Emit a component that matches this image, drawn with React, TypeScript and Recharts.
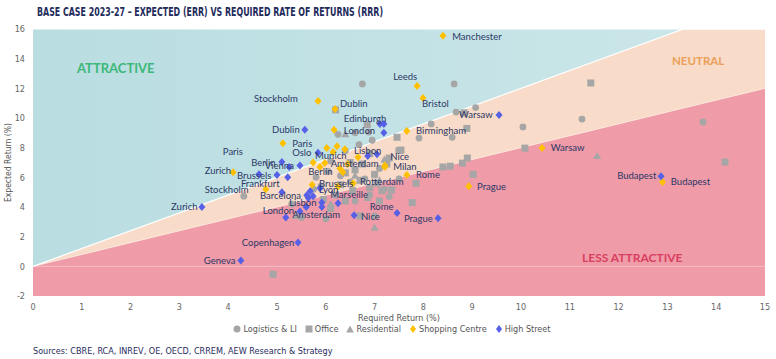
import React from 'react';
import {
  ComposedChart,
  Area,
  Scatter,
  XAxis,
  YAxis,
  ReferenceLine,
} from 'recharts';

type Pt = { x: number; y: number };
type CityLabel = { name: string; x: number; y: number };

const toPts = (rows: number[][]): Pt[] => rows.map(([x, y]) => ({ x, y }));

// zone boundaries (lower = neutral/less attractive, upper = attractive/neutral)
const zoneEdges = [
  { x: 0, lower: 0, upper: 0 },
  { x: 13.33, lower: 10.67, upper: 16 },
  { x: 15, lower: 12, upper: 16 },
];

const xTicks = [0, 1, 2, 3, 4, 5, 6, 7, 8, 9, 10, 11, 12, 13, 14, 15];
const yTicks = [-2, 0, 2, 4, 6, 8, 10, 12, 14, 16];

const logistics = toPts([
  [6.75, 12.3], [8.63, 12.3], [8.67, 10.4], [9.07, 10.7], [10.04, 9.4], [11.25, 9.93],
  [13.73, 9.73], [8.16, 9.6], [8.59, 8.7], [7.91, 8.65], [6.25, 8.9], [6.6, 9.0],
  [6.88, 9.05], [6.95, 8.5], [6.68, 8.2], [6.4, 7.8], [6.1, 7.1], [5.8, 6.0],
  [5.9, 5.4], [6.3, 6.1], [6.5, 5.7], [6.8, 5.9], [7.1, 6.6], [7.2, 5.2],
  [6.9, 4.8], [6.6, 4.4], [6.2, 4.8], [7.5, 5.9], [4.32, 4.73], [5.5, 3.3],
  [6.0, 3.2], [7.0, 3.4], [5.3, 4.2], [7.3, 4.7], [5.75, 5.2], [6.05, 6.4],
]);

const office = toPts([
  [11.43, 12.36], [6.2, 10.55], [6.85, 9.55], [7.46, 8.7], [7.54, 7.84], [8.89, 9.3],
  [8.83, 10.35], [8.9, 7.3], [8.8, 6.96], [8.4, 6.7], [8.55, 6.75], [9.02, 6.2],
  [7.85, 5.6], [7.15, 5.1], [7.35, 5.15], [7.77, 4.3], [10.08, 7.97], [14.18, 7.03],
  [6.4, 6.3], [6.6, 6.5], [6.3, 5.5], [6.7, 5.8], [7.0, 6.2], [6.9, 7.6],
  [7.3, 7.3], [6.5, 7.0], [5.95, 4.5], [6.1, 3.9], [6.9, 5.3], [7.1, 4.4],
  [4.92, -0.54], [7.5, 7.8], [6.4, 4.4], [6.7, 3.4], [7.25, 6.9], [6.75, 6.9],
  [7.05, 5.6], [6.55, 5.1],
]);

const residential = toPts([
  [11.56, 7.43], [6.4, 8.9], [7.0, 2.6], [5.4, 3.4], [6.6, 6.1], [7.1, 5.8],
  [6.1, 4.2], [7.2, 7.2], [6.85, 4.6],
]);

const shopping = toPts([
  [8.4, 15.54], [7.87, 12.16], [7.99, 11.35], [5.84, 11.15], [6.19, 10.6], [6.17, 9.2],
  [7.66, 9.12], [5.12, 8.3], [4.1, 6.35], [10.43, 7.97], [12.9, 5.68], [8.93, 5.4],
  [7.66, 6.15], [7.21, 6.7], [4.77, 5.2], [6.25, 5.4], [6.02, 7.97], [6.23, 8.1],
  [6.39, 7.9], [6.15, 7.7], [5.74, 7.0], [5.98, 6.96], [5.88, 6.7], [6.29, 6.6],
  [6.35, 6.35], [6.66, 7.36], [7.21, 6.8], [5.72, 5.5], [6.56, 5.6], [6.45, 6.9],
]);

const highStreet = toPts([
  [9.55, 10.2], [7.11, 9.6], [7.19, 9.6], [7.19, 9.0], [5.57, 9.2], [5.84, 7.65],
  [6.86, 7.43], [7.05, 7.55], [5.1, 7.03], [5.25, 6.7], [5.47, 6.8], [4.63, 6.2],
  [5.0, 6.15], [5.22, 6.0], [5.1, 5.0], [5.68, 5.07], [5.88, 5.27], [5.61, 4.8],
  [5.74, 4.73], [5.92, 4.3], [5.64, 4.6], [5.92, 4.0], [5.6, 4.0], [5.47, 3.7],
  [6.25, 4.25], [5.18, 3.3], [6.58, 3.45], [7.46, 3.6], [8.3, 3.24], [3.46, 4.0],
  [5.43, 1.6], [4.26, 0.4], [12.87, 6.08],
]);

const cityLabels: CityLabel[] = [
  { name: 'Manchester', x: 8.59, y: 15.47 },
  { name: 'Leeds', x: 7.38, y: 12.77 },
  { name: 'Bristol', x: 7.97, y: 10.95 },
  { name: 'Stockholm', x: 4.53, y: 11.28 },
  { name: 'Dublin', x: 6.29, y: 10.95 },
  { name: 'Warsaw', x: 8.73, y: 10.2 },
  { name: 'Edinburgh', x: 6.37, y: 9.93 },
  { name: 'London', x: 6.37, y: 9.12 },
  { name: 'Birmingham', x: 7.85, y: 9.12 },
  { name: 'Dublin', x: 4.9, y: 9.19 },
  { name: 'Paris', x: 5.31, y: 8.3 },
  { name: 'Paris', x: 3.89, y: 7.7 },
  { name: 'Oslo', x: 5.31, y: 7.64 },
  { name: 'Munich', x: 5.78, y: 7.43 },
  { name: 'Lisbon', x: 6.58, y: 7.77 },
  { name: 'Nice', x: 7.32, y: 7.36 },
  { name: 'Amsterdam', x: 6.1, y: 6.9 },
  { name: 'Milan', x: 7.38, y: 6.69 },
  { name: 'Berlin', x: 5.64, y: 6.35 },
  { name: 'Rome', x: 7.85, y: 6.15 },
  { name: 'Rotterdam', x: 6.7, y: 5.74 },
  { name: 'Brussels', x: 5.86, y: 5.54 },
  { name: 'Lyon', x: 5.86, y: 5.14 },
  { name: 'Marseille', x: 6.09, y: 4.86 },
  { name: 'Prague', x: 9.1, y: 5.4 },
  { name: 'Warsaw', x: 10.61, y: 7.97 },
  { name: 'Budapest', x: 11.97, y: 6.08 },
  { name: 'Budapest', x: 13.07, y: 5.68 },
  { name: 'Berlin', x: 4.47, y: 6.96 },
  { name: 'Vienna', x: 4.75, y: 6.76 },
  { name: 'Zurich', x: 3.52, y: 6.42 },
  { name: 'Brussels', x: 4.18, y: 6.08 },
  { name: 'Frankfurt', x: 4.26, y: 5.54 },
  { name: 'Stockholm', x: 3.52, y: 5.14 },
  { name: 'Barcelona', x: 4.65, y: 4.73 },
  { name: 'Lisbon', x: 5.25, y: 4.32 },
  { name: 'London', x: 4.71, y: 3.72 },
  { name: 'Amsterdam', x: 5.31, y: 3.51 },
  { name: 'Rome', x: 6.9, y: 4.05 },
  { name: 'Nice', x: 6.72, y: 3.38 },
  { name: 'Prague', x: 7.6, y: 3.24 },
  { name: 'Zurich', x: 2.83, y: 3.99 },
  { name: 'Copenhagen', x: 4.28, y: 1.62 },
  { name: 'Geneva', x: 3.5, y: 0.4 },
];

const GREY = '#a6a6a6';
const YELLOW = '#ffc000';
const BLUE = '#5560e6';
const NAVY = '#1f2c5c';
const condensed = '"Liberation Sans Narrow", "DejaVu Sans Condensed", "Roboto", sans-serif';

const circleShape = (p: any) => <circle cx={p.cx} cy={p.cy} r={3.4} fill={GREY} />;
const squareShape = (p: any) => <rect x={p.cx - 3.5} y={p.cy - 3.5} width={7} height={7} fill={GREY} />;
const triangleShape = (p: any) => (
  <path d={`M${p.cx},${p.cy - 4} L${p.cx + 4},${p.cy + 3} L${p.cx - 4},${p.cy + 3} Z`} fill={GREY} />
);
const diamond = (color: string) => (p: any) => (
  <path d={`M${p.cx},${p.cy - 4} L${p.cx + 3.5},${p.cy} L${p.cx},${p.cy + 4} L${p.cx - 3.5},${p.cy} Z`} fill={color} />
);
const labelShape = (p: any) => (
  <text x={p.cx} y={p.cy} dy="0.35em" fontSize={9.5} fontFamily="Lato, 'Open Sans', sans-serif" fill="#2b3866">
    {p.payload.name}
  </text>
);

const legendItems = [
  { name: 'Logistics & LI', color: GREY, icon: 'circle' },
  { name: 'Office', color: GREY, icon: 'square' },
  { name: 'Residential', color: GREY, icon: 'triangle' },
  { name: 'Shopping Centre', color: YELLOW, icon: 'diamond' },
  { name: 'High Street', color: BLUE, icon: 'diamond' },
];

function LegendIcon({ icon, color }: { icon: string; color: string }) {
  return (
    <svg width={8} height={8} style={{ marginRight: 2 }}>
      {icon === 'circle' && <circle cx={4} cy={4} r={3.5} fill={color} />}
      {icon === 'square' && <rect x={0.5} y={0.5} width={7} height={7} fill={color} />}
      {icon === 'triangle' && <path d="M4,0.5 L7.8,7.5 L0.2,7.5 Z" fill={color} />}
      {icon === 'diamond' && <path d="M4,0 L7,4 L4,8 L1,4 Z" fill={color} />}
    </svg>
  );
}

const tickStyle = { fontSize: 9, fill: '#666', fontFamily: condensed };

export default function App() {
  return (
    <div style={{ position: 'relative', width: 776, height: 359, background: '#fff', overflow: 'hidden' }}>
      <style>{`body{margin:0}`}</style>
      <svg width={776} height={24} style={{ position: 'absolute', left: 0, top: 0 }}>
        <text x={37} y={16} fontSize={12} fontWeight="bold" fill={NAVY} fontFamily={condensed} textLength={346} lengthAdjust="spacingAndGlyphs">
          BASE CASE 2023-27 – EXPECTED (ERR) VS REQUIRED RATE OF RETURNS (RRR)
        </text>
      </svg>

      <div style={{ position: 'absolute', left: 0, top: 0 }}>
        <ComposedChart width={776} height={340} data={zoneEdges} margin={{ top: 29, right: 11, bottom: 0, left: 0 }}>
          <defs>
            <linearGradient id="tealGrad" x1="0" y1="0" x2="1" y2="0">
              <stop offset="0%" stopColor="#b9dde1" />
              <stop offset="100%" stopColor="#cde7e9" />
            </linearGradient>
          </defs>
          <XAxis
            type="number"
            dataKey="x"
            domain={[0, 15]}
            ticks={xTicks}
            allowDataOverflow
            axisLine={false}
            tickLine={false}
            tick={tickStyle}
            height={44}
            label={{ value: 'Required Return (%)', position: 'insideBottom', offset: 19, style: { fontSize: 9, fill: '#555', fontFamily: condensed } }}
          />
          <YAxis
            type="number"
            dataKey="y"
            domain={[-2, 16]}
            ticks={yTicks}
            allowDataOverflow
            axisLine={false}
            tickLine={false}
            tick={tickStyle}
            width={33}
            label={{ value: 'Expected Return (%)', angle: -90, position: 'insideLeft', offset: 8, style: { fontSize: 8.5, fill: '#555', fontFamily: condensed, textAnchor: 'middle' } }}
          />
          <Area type="linear" dataKey={(d: any) => [-2, d.lower]} stroke="none" fill="#ef9ba8" fillOpacity={1} isAnimationActive={false} legendType="none" activeDot={false} />
          <Area type="linear" dataKey={(d: any) => [d.lower, d.upper]} stroke="#fbe6da" strokeWidth={1} fill="#f8dbc8" fillOpacity={1} isAnimationActive={false} legendType="none" activeDot={false} />
          <Area type="linear" dataKey={(d: any) => [d.upper, 16]} stroke="#ffffff" strokeWidth={1.2} fill="url(#tealGrad)" fillOpacity={1} isAnimationActive={false} legendType="none" activeDot={false} />
          <ReferenceLine y={0} stroke="#ffffff" strokeOpacity={0.35} />
          <Scatter name="Logistics & LI" data={logistics} shape={circleShape} isAnimationActive={false} />
          <Scatter name="Office" data={office} shape={squareShape} isAnimationActive={false} />
          <Scatter name="Residential" data={residential} shape={triangleShape} isAnimationActive={false} />
          <Scatter name="Shopping Centre" data={shopping} shape={diamond(YELLOW)} isAnimationActive={false} />
          <Scatter name="High Street" data={highStreet} shape={diamond(BLUE)} isAnimationActive={false} />
          <Scatter name="labels" data={cityLabels} shape={labelShape} isAnimationActive={false} legendType="none" />
        </ComposedChart>
      </div>

      <div style={{ position: 'absolute', left: 77, top: 60, fontFamily: 'Lato, sans-serif', fontWeight: 700, fontSize: 13, color: '#3cb878' }}>ATTRACTIVE</div>
      <div style={{ position: 'absolute', left: 672, top: 54, fontFamily: 'Lato, sans-serif', fontWeight: 700, fontSize: 11.5, color: '#eaa05a' }}>NEUTRAL</div>
      <div style={{ position: 'absolute', left: 582, top: 250, fontFamily: 'Lato, sans-serif', fontWeight: 700, fontSize: 12, color: '#d8405f' }}>LESS ATTRACTIVE</div>

      <div style={{ position: 'absolute', left: 0, width: 776, top: 324, display: 'flex', justifyContent: 'center', paddingLeft: 16, boxSizing: 'border-box', fontFamily: condensed, fontSize: 9, color: '#555' }}>
        {legendItems.map((it) => (
          <span key={it.name} style={{ display: 'inline-flex', alignItems: 'center', marginRight: 8 }}>
            <LegendIcon icon={it.icon} color={it.color} />
            {it.name}
          </span>
        ))}
      </div>

      <div style={{ position: 'absolute', left: 33, top: 346, fontFamily: condensed, fontSize: 9, color: NAVY }}>
        Sources: CBRE, RCA, INREV, OE, OECD, CRREM, AEW Research &amp; Strategy
      </div>
    </div>
  );
}
